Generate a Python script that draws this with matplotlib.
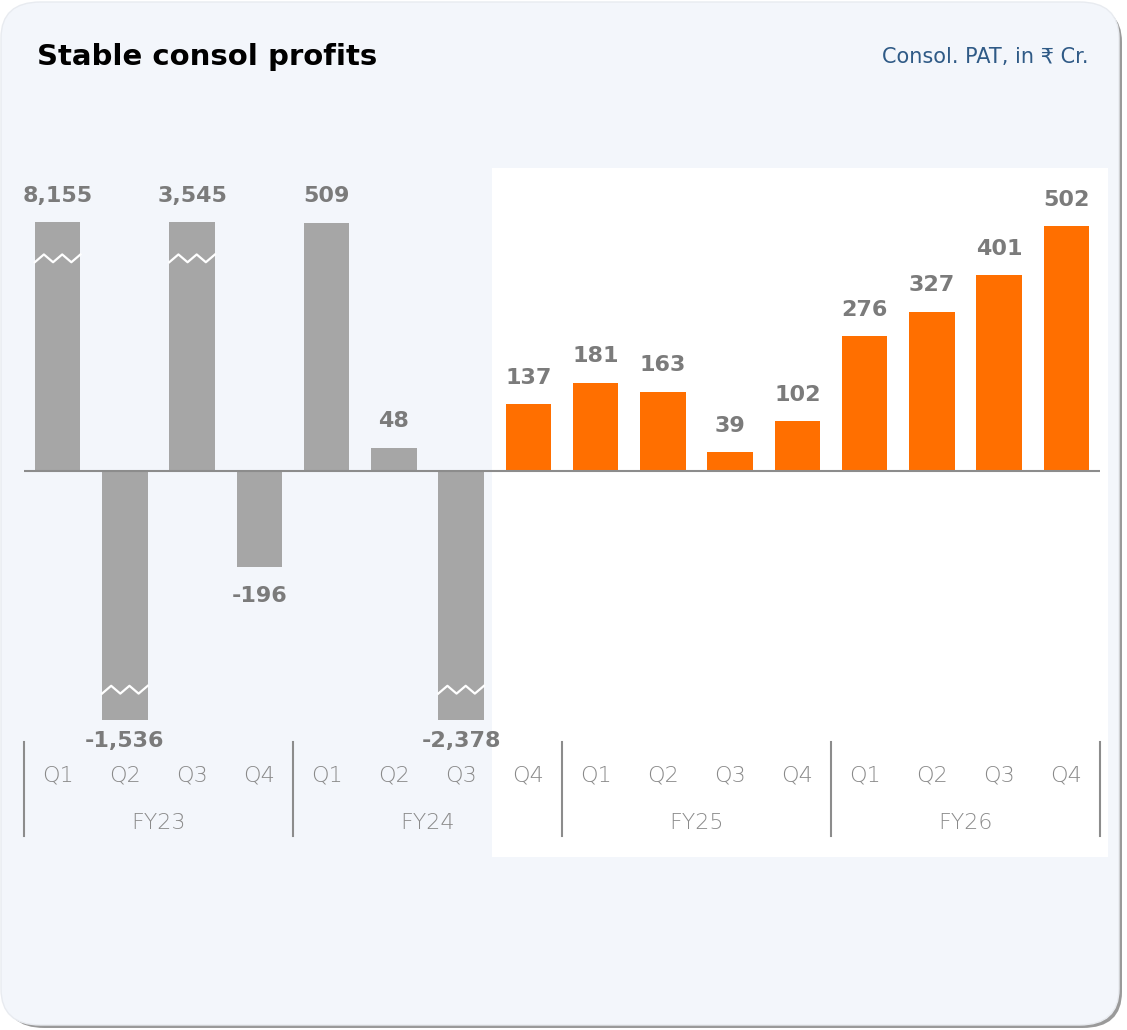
import matplotlib
matplotlib.use('Agg')
import matplotlib.pyplot as plt
from matplotlib.patches import FancyBboxPatch, Rectangle

quarters = ['Q1', 'Q2', 'Q3', 'Q4'] * 4
years = ['FY23', 'FY24', 'FY25', 'FY26']
pat = [8155, -1536, 3545, -196, 509, 48, -2378, 137,
       181, 163, 39, 102, 276, 327, 401, 502]
labels = ['8,155', '-1,536', '3,545', '-196', '509', '48', '-2,378', '137',
          '181', '163', '39', '102', '276', '327', '401', '502']
cap = 510
first_orange = 7

plt.rcParams['font.family'] = ['DejaVu Sans']

W, H = 1127, 1030
fig = plt.figure(figsize=(W / 100, H / 100), dpi=100)
fig.patch.set_facecolor('white')

# card with a soft shadow
shadow = FancyBboxPatch((5 / W, 2 / H), 1117 / W, 1022 / H,
                        boxstyle='round,pad=0,rounding_size=0.035',
                        transform=fig.transFigure, facecolor='#9a9a9a',
                        edgecolor='none', zorder=0)
card = FancyBboxPatch((1 / W, 5 / H), 1118 / W, 1023 / H,
                      boxstyle='round,pad=0,rounding_size=0.035',
                      transform=fig.transFigure, facecolor='#F3F6FB',
                      edgecolor='#e8ebf0', lw=1, zorder=1)
fig.patches.extend([shadow, card])
fig.patches.append(Rectangle((492 / W, (H - 857) / H), 616 / W, 689 / H,
                             transform=fig.transFigure, facecolor='white',
                             edgecolor='none', zorder=2))

ax = fig.add_axes([24 / W, (H - 860) / H, 1076 / W, 730 / H])
ax.set_zorder(3)
ax.patch.set_alpha(0)
ax.set_xlim(-0.5, 15.5)
ax.set_ylim(-797, 699)
ax.axis('off')

x = list(range(len(pat)))
shown = [max(min(v, cap), -cap) for v in pat]
colors = ['#A6A6A6' if i < first_orange else '#FF6F00' for i in x]
ax.bar(x, shown, width=0.68, color=colors, zorder=2)
ax.axhline(0, color='#8c8c8c', lw=1.5, zorder=3)

for i, v in enumerate(pat):
    h = shown[i]
    if abs(v) > cap:
        yb = h - 74 if v > 0 else h + 62
        xs = [i - 0.34 + k * 0.68 / 5 for k in range(6)]
        ys = [yb + (8 if k % 2 else -8) for k in range(6)]
        ax.plot(xs, ys, color='white', lw=1.6, zorder=4)
    if v >= 0:
        off = 19
    elif abs(v) > cap:
        off = -15
    else:
        off = -21
    ax.annotate(labels[i], (i, h), xytext=(0, off), textcoords='offset points',
                ha='center', va='center', fontsize=16, fontweight='bold',
                color='#7b7b7b')
    ax.text(i, -623, quarters[i], ha='center', va='center', fontsize=16,
            color='#8a8a8a', fontweight='light')

for k, fy in enumerate(years):
    ax.text(4 * k + 1.5, -721, fy, ha='center', va='center', fontsize=16,
            color='#8a8a8a', fontweight='light')
for k in range(5):
    ax.plot([4 * k - 0.5] * 2, [-555, -748], color='#8c8c8c', lw=1.5,
            clip_on=False)

fig.text(37 / W, 1 - 57 / H, 'Stable consol profits', fontsize=21,
         fontweight='bold', color='black', va='center', ha='left', zorder=5)
fig.text(1088 / W, 1 - 57 / H, 'Consol. PAT, in \u20b9 Cr.', fontsize=15,
         color='#2F5A86', va='center', ha='right', zorder=5)

fig.savefig('out.png', dpi=100, facecolor='white')
